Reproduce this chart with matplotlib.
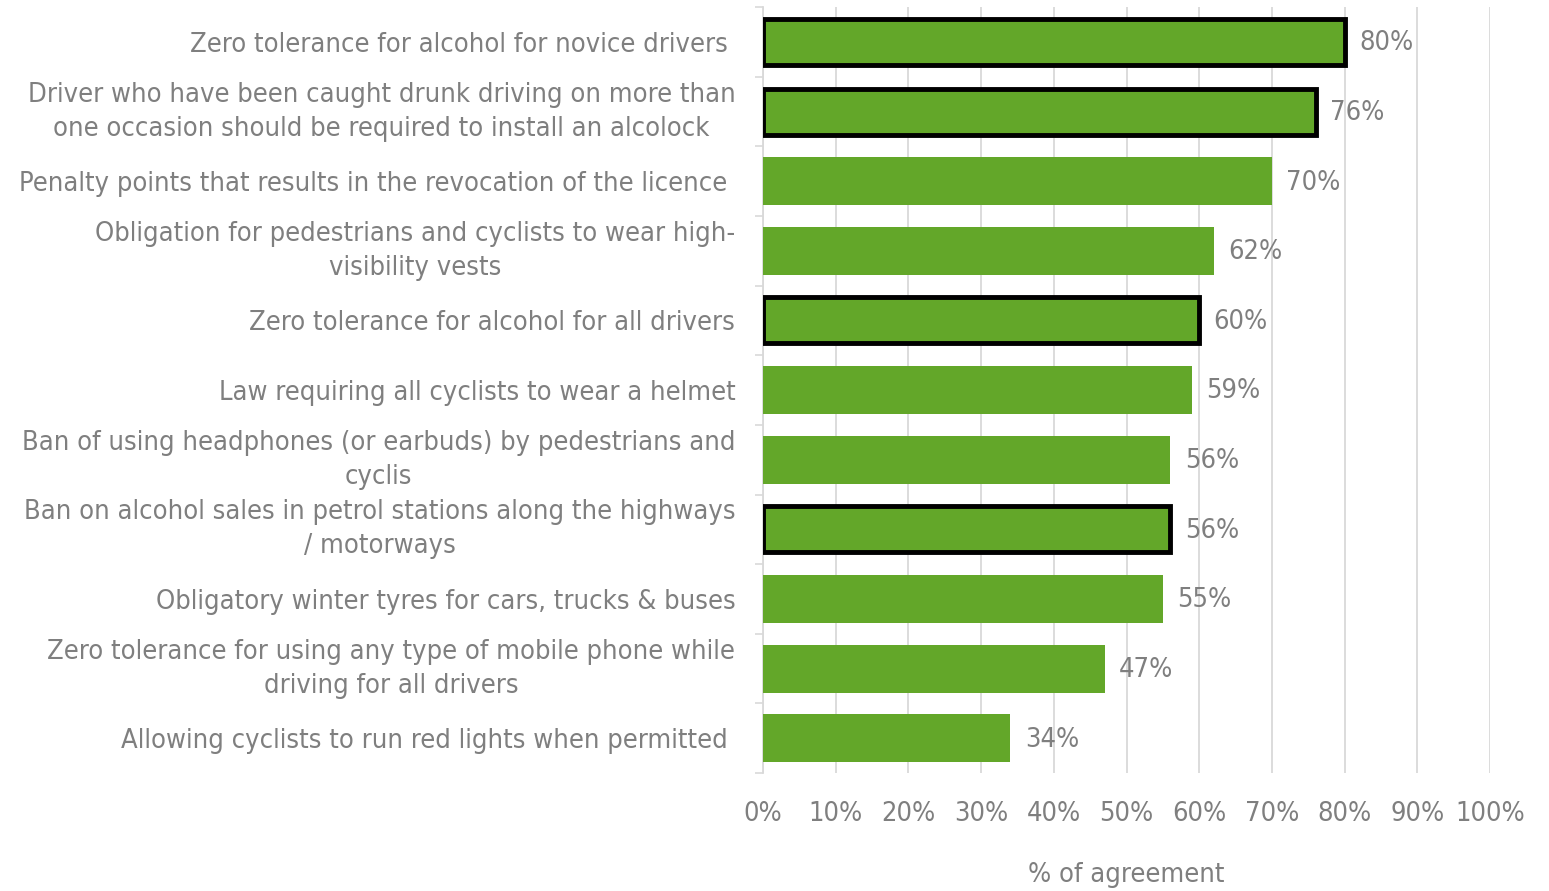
import matplotlib.pyplot as plt
import numpy as np
from matplotlib.ticker import FixedLocator, PercentFormatter

measures = [
    "Zero tolerance for alcohol for novice drivers ",
    "Driver who have been caught drunk driving on more than\none occasion should be required to install an alcolock",
    "Penalty points that results in the revocation of the licence ",
    "Obligation for pedestrians and cyclists to wear high-\nvisibility vests",
    "Zero tolerance for alcohol for all drivers",
    "Law requiring all cyclists to wear a helmet",
    "Ban of using headphones (or earbuds) by pedestrians and\ncyclis",
    "Ban on alcohol sales in petrol stations along the highways\n/ motorways",
    "Obligatory winter tyres for cars, trucks & buses",
    "Zero tolerance for using any type of mobile phone while\ndriving for all drivers",
    "Allowing cyclists to run red lights when permitted ",
]
agreement = [80, 76, 70, 62, 60, 59, 56, 56, 55, 47, 34]
highlighted = [True, True, False, False, True, False, False, True, False, False, False]

GREEN = "#63a729"
GREY = "#7f7f7f"
FS = 19.5

plt.rcParams["font.family"] = ["DejaVu Sans"]
plt.rcParams["font.stretch"] = "condensed"

fig = plt.figure(figsize=(15.49, 8.91), dpi=100)
ax = fig.add_axes([0.4926, 0.1324, 0.4693, 0.8596])

y = np.arange(len(measures))
for yi, val, hl in zip(y, agreement, highlighted):
    if hl:
        ax.barh(yi, val, height=0.66, color=GREEN, edgecolor="black",
                linewidth=3.5, zorder=3)
    else:
        ax.barh(yi, val, height=0.69, color=GREEN, edgecolor="none", zorder=3)
    ax.text(val + 2.0, yi + 0.02, f"{val}%", va="center", ha="left",
            fontsize=FS, color=GREY, fontstretch="condensed")

ax.set_xlim(0, 100)
ax.set_ylim(len(measures) - 0.5, -0.5)
ax.set_xticks(np.arange(0, 101, 10))
ax.xaxis.set_major_formatter(PercentFormatter(decimals=0))
for lbl in ax.get_xticklabels():
    lbl.set_fontstretch("condensed")
ax.set_yticks(y)
ax.set_yticklabels(measures, fontsize=FS, color=GREY, multialignment="center",
                   fontstretch="condensed")
for lbl in ax.get_yticklabels():
    lbl.set_linespacing(1.4)
    if "\n" in lbl.get_text():
        lbl.set_verticalalignment("center")
ax.yaxis.set_minor_locator(FixedLocator(np.arange(-0.5, len(measures), 1)))
ax.tick_params(axis="y", which="major", length=0, pad=20)
ax.tick_params(axis="y", which="minor", length=6, color="#d9d9d9", width=1.2)
ax.tick_params(axis="x", length=0, labelsize=FS, labelcolor=GREY, pad=20)

ax.grid(axis="x", color="#d9d9d9", linewidth=1.3, zorder=0)
for side in ("top", "right", "bottom"):
    ax.spines[side].set_visible(False)
ax.spines["left"].set_color("#d9d9d9")
ax.spines["left"].set_linewidth(1.3)

ax.set_xlabel("% of agreement", fontsize=FS, color=GREY, labelpad=25,
              fontstretch="condensed")

fig.savefig("out.png", dpi=100)
